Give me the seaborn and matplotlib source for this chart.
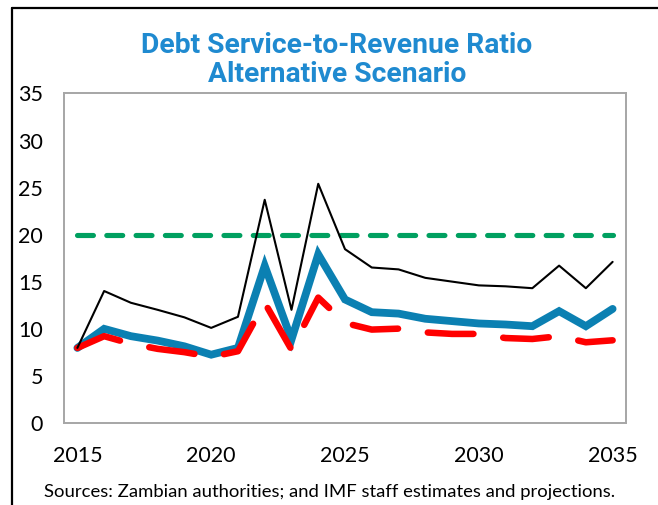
import matplotlib
matplotlib.use("Agg")
import matplotlib.pyplot as plt
import seaborn as sns
import pandas as pd
from matplotlib.lines import Line2D

years = list(range(2015, 2036))
baseline = [7.95, 9.98, 9.2, 8.73, 8.12, 7.23, 7.95, 16.67, 8.84, 17.9, 13.1,
            11.75, 11.6, 11.05, 10.8, 10.55, 10.44, 10.26, 11.86, 10.26, 12.1]
historical = [7.95, 9.2, 8.4, 7.85, 7.5, 7.0, 7.6, 12.75, 7.77, 13.3, 10.6,
              9.9, 10.0, 9.6, 9.44, 9.44, 9.0, 8.9, 9.2, 8.55, 8.76]
stress = [7.95, 14.0, 12.75, 12.0, 11.2, 10.08, 11.26, 23.7, 12.0, 25.4, 18.45,
          16.5, 16.3, 15.4, 15.0, 14.6, 14.5, 14.3, 16.7, 14.3, 17.1]
threshold = [20] * len(years)
y_ticks = [0, 5, 10, 15, 20, 25, 30, 35]
x_labels = [2015, 2020, 2025, 2030, 2035]

df = pd.DataFrame({"year": years, "baseline": baseline, "historical": historical,
                   "stress": stress, "threshold": threshold})

sns.set_style("white")
plt.rcParams['font.family'] = ['Lato', 'DejaVu Sans']

fig = plt.figure(figsize=(6.58, 5.05), dpi=100)
ax = fig.add_axes([64/658, 1-422.7/505, (626-64)/658, (422.7-93.5)/505])

sns.lineplot(data=df, x="year", y="baseline", ax=ax, color="#0B80B2", lw=5.6,
             zorder=2, solid_joinstyle="miter")
sns.lineplot(data=df, x="year", y="historical", ax=ax, color="#FF0000", lw=4.7,
             zorder=3, linestyle=(0, (7.0, 4.6)), dash_capstyle="round")
sns.lineplot(data=df, x="year", y="threshold", ax=ax, color="#00A060", lw=3.7,
             zorder=4, linestyle=(0, (3.1, 2.6)), dash_capstyle="round")
sns.lineplot(data=df, x="year", y="stress", ax=ax, color="black", lw=1.5, zorder=5)

ax.set_xlim(2014.5, 2035.5)
ax.set_ylim(0, 35)
ax.set_xlabel("")
ax.set_ylabel("")

ax.set_yticks(y_ticks)
ax.set_xticks(x_labels)
ax.set_xticklabels([str(v) for v in x_labels])
ax.set_xticks([2019.5, 2024.5, 2029.5, 2034.5], minor=True)
ax.tick_params(axis="x", which="major", length=0, pad=17, labelsize=15.5, colors="black")
ax.tick_params(axis="x", which="minor", length=5.5, width=1.2, direction="in", color="#A6A6A6")
ax.tick_params(axis="y", which="major", length=6.5, width=1.2, direction="in",
               color="#A6A6A6", pad=15, labelsize=15.5, labelcolor="black")

for s in ax.spines.values():
    s.set_color("#A6A6A6")
    s.set_linewidth(1.4)
    s.set_visible(True)

fig.text(337/658, 1-60/505, "Debt Service-to-Revenue Ratio\nAlternative Scenario",
         ha="center", va="center", color="#1F8AD0", fontsize=20.3, fontweight="bold",
         family=["Roboto", "DejaVu Sans"], linespacing=1.08)
fig.text(330/658, 1-492/505,
         "Sources: Zambian authorities; and IMF staff estimates and projections.",
         ha="center", va="center", fontsize=13.3, color="black")

fig.add_artist(Line2D([12/658, 12/658], [0, 1-8/505], color="black", lw=1.6,
                      transform=fig.transFigure))
fig.add_artist(Line2D([12/658, 1], [1-8/505, 1-8/505], color="black", lw=1.6,
                      transform=fig.transFigure))

fig.savefig("out.png", dpi=100)
